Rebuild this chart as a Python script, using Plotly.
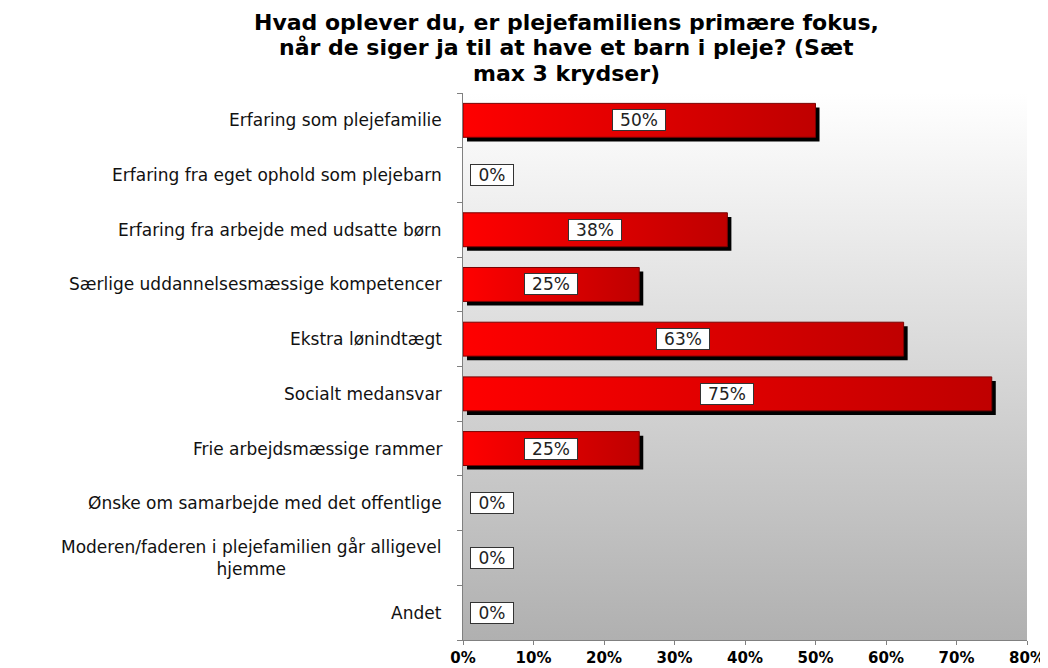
import plotly.graph_objects as go

categories = [
    "Erfaring som plejefamilie",
    "Erfaring fra eget ophold som plejebarn",
    "Erfaring fra arbejde med udsatte børn",
    "Særlige uddannelsesmæssige kompetencer",
    "Ekstra lønindtægt",
    "Socialt medansvar",
    "Frie arbejdsmæssige rammer",
    "Ønske om samarbejde med det offentlige",
    "Moderen/faderen i plejefamilien går alligevel<br>hjemme",
    "Andet",
]
values = [50, 0, 37.5, 25, 62.5, 75, 25, 0, 0, 0]
value_labels = ["50%", "0%", "38%", "25%", "63%", "75%", "25%", "0%", "0%", "0%"]
x_ticks = [0, 10, 20, 30, 40, 50, 60, 70, 80]
title_lines = [
    "Hvad oplever du, er plejefamiliens primære fokus,",
    "når de siger ja til at have et barn i pleje? (Sæt",
    "max 3 krydser)",
]

n = len(categories)
half = 0.31
dx, dy = 0.57, 0.075

fig = go.Figure()

# gradient plot background
fig.add_trace(go.Scatter(
    x=[0, 80, 80, 0, 0], y=[-0.5, -0.5, n - 0.5, n - 0.5, -0.5],
    fill="toself", mode="lines", line=dict(width=0),
    fillgradient=dict(type="vertical", colorscale=[[0, "#b0b0b0"], [1, "#ffffff"]]),
    hoverinfo="skip", showlegend=False,
))

lab_font = dict(family="DejaVu Sans", size=17, color="#222222")

for i, (cat, v, lab) in enumerate(zip(categories, values, value_labels)):
    yc = n - 1 - i
    if v > 0:
        # shadow
        fig.add_trace(go.Scatter(
            x=[dx, v + dx, v + dx, dx, dx],
            y=[yc - half - dy, yc - half - dy, yc + half - dy, yc + half - dy, yc - half - dy],
            fill="toself", mode="lines", line=dict(width=0), fillcolor="#000000",
            hoverinfo="skip", showlegend=False,
        ))
        fig.add_trace(go.Scatter(
            x=[0, v, v, 0, 0],
            y=[yc - half, yc - half, yc + half, yc + half, yc - half],
            fill="toself", mode="lines", line=dict(width=1, color="#7a0000"),
            fillgradient=dict(type="horizontal", colorscale=[[0, "#ff0000"], [1, "#bf0000"]]),
            hoverinfo="skip", showlegend=False,
        ))
        fig.add_annotation(x=v / 2, y=yc, text=lab, showarrow=False, width=52,
                           bgcolor="white", bordercolor="#333333", borderwidth=1, borderpad=0,
                           font=lab_font)
    else:
        fig.add_annotation(x=0, y=yc, text=lab, showarrow=False, xanchor="left", xshift=7,
                           width=42,
                           bgcolor="white", bordercolor="#333333", borderwidth=1, borderpad=0,
                           font=lab_font)
    fig.add_annotation(x=0, y=yc, text=cat, showarrow=False, xanchor="right", xshift=-19,
                       align="center",
                       font=dict(family="DejaVu Sans", size=17, color="#111111"))

# title, one annotation per line
for shift, line in zip([71, 46, 20], title_lines):
    fig.add_annotation(xref="paper", yref="paper", x=0.184, y=1, xanchor="center",
                       yanchor="middle", yshift=shift, text=line, showarrow=False,
                       font=dict(family="DejaVu Sans", size=22, color="black", weight="bold"))

fig.update_layout(
    width=1048, height=668,
    margin=dict(l=455, r=29, t=85, b=36),
    paper_bgcolor="white", plot_bgcolor="white",
    xaxis=dict(range=[0, 80], tickvals=x_ticks, ticktext=[f"{t}%" for t in x_ticks],
               ticks="outside", ticklen=4, tickcolor="#808080", automargin=False,
               showline=True, linecolor="#808080", showgrid=False, zeroline=False,
               tickfont=dict(family="DejaVu Sans", size=15, color="black", weight="bold")),
    yaxis=dict(range=[-0.5, n - 0.5], tickvals=[i + 0.5 for i in range(-1, n)],
               ticktext=[""] * (n + 1), ticks="outside", ticklen=5, tickcolor="#808080",
               automargin=False,
               showline=True, linecolor="#808080", showgrid=False, zeroline=False),
)

fig.write_html("out.html")
